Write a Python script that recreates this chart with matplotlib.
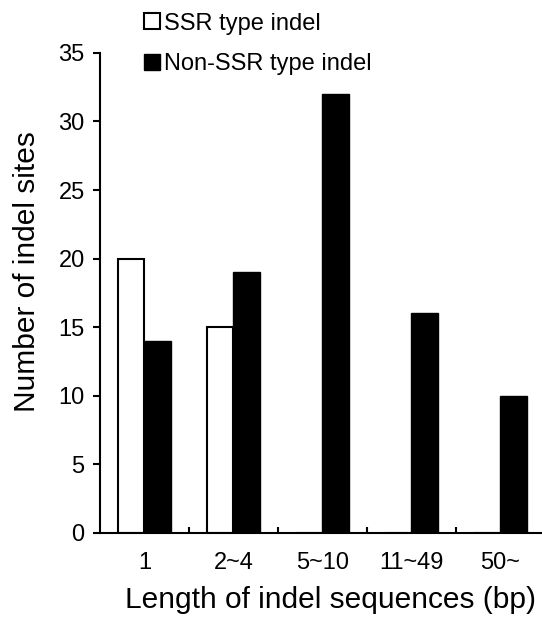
import numpy as np
import matplotlib
matplotlib.use('Agg')
import matplotlib.pyplot as plt

plt.rcParams['font.family'] = ['Liberation Sans', 'DejaVu Sans']

categories = ['1', '2~4', '5~10', '11~49', '50~']
ssr = [20, 15, 0, 0, 0]
non_ssr = [14, 19, 32, 16, 10]

fig = plt.figure(figsize=(5.42, 6.23), dpi=100)
ax = fig.add_axes([0.1845, 0.145, 0.821, 0.77])

x = np.arange(len(categories))
w = 0.30
ax.bar(x - w / 2, ssr, w, color='white', edgecolor='black', linewidth=1.5, label='SSR type indel')
ax.bar(x + w / 2, non_ssr, w, color='black', edgecolor='black', linewidth=1.0, label='Non-SSR type indel')

ax.set_xlim(-0.5, len(categories) - 0.5)
ax.set_ylim(0, 35)
ax.set_yticks(range(0, 36, 5))
ax.set_xticks(x)
ax.set_xticklabels(categories)
ax.set_xticks(x[:-1] + 0.5, minor=True)
ax.tick_params(axis='x', which='major', length=0, pad=14, labelsize=17)
ax.tick_params(axis='x', which='minor', direction='in', length=4, width=1.5)
ax.tick_params(axis='y', direction='out', length=5, width=1.5, pad=6, labelsize=17)

for s in ['top', 'right']:
    ax.spines[s].set_visible(False)
for s in ['left', 'bottom']:
    ax.spines[s].set_linewidth(1.5)

ax.set_xlabel('Length of indel sequences (bp)', fontsize=21.5, va='center')
ax.set_ylabel('Number of indel sites', fontsize=21.5, va='center')
ax.xaxis.set_label_coords(0.517, -0.14)
ax.yaxis.set_label_coords(-0.164, 0.544)

leg = ax.legend(loc='upper left', bbox_to_anchor=(0.249, 0.995), bbox_transform=fig.transFigure,
                frameon=False, fontsize=17, handlelength=0.65, handleheight=0.65,
                handletextpad=0.2, labelspacing=0.78, borderaxespad=0)

fig.savefig('out.png', dpi=100)
